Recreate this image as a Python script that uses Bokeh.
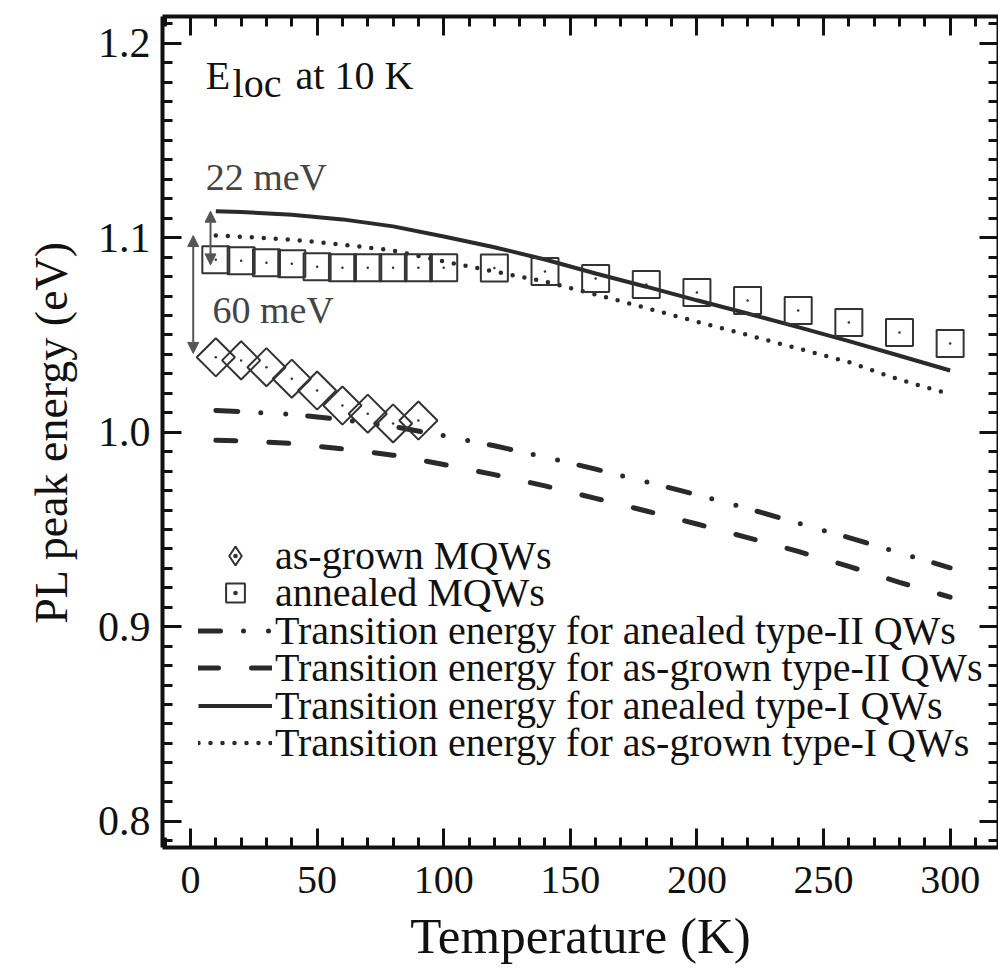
import numpy as np
from bokeh.plotting import figure
from bokeh.models import (SingleIntervalTicker, LinearAxis, Legend, LegendItem, Label,
                          Arrow, NormalHead, NumeralTickFormatter, Range1d,
                          CustomJSTickFormatter)
from bokeh.embed import file_html
from bokeh.resources import INLINE

# ---------------- data ----------------
temp_asgrown = [10, 20, 30, 40, 50, 60, 70, 80, 90]
pl_asgrown = [1.0385, 1.0369, 1.0334, 1.0275, 1.0214, 1.0137, 1.0095, 1.0045, 1.0060]

temp_annealed = [10, 20, 30, 40, 50, 60, 70, 80, 90, 100,
                 120, 140, 160, 180, 200, 220, 240, 260, 280, 300]
pl_annealed = [1.0887, 1.0882, 1.0871, 1.0866, 1.0850, 1.0846, 1.0845, 1.0845, 1.0845, 1.0845,
               1.0844, 1.0826, 1.0790, 1.0759, 1.0718, 1.0677, 1.0626, 1.0564, 1.0513, 1.0456]

temp_calc = [10, 20, 40, 60, 80, 100, 120, 140, 160, 180, 200, 220, 240, 260, 280, 300]
e_annealed_type2 = [1.0112, 1.0106, 1.0092, 1.0065, 1.0030, 0.9982, 0.9930, 0.9872, 0.9810,
                    0.9745, 0.9678, 0.9608, 0.9532, 0.9458, 0.9380, 0.9303]
e_asgrown_type2 = [0.9958, 0.9955, 0.9942, 0.9914, 0.9882, 0.9834, 0.9782, 0.9724, 0.9660,
                   0.9595, 0.9528, 0.9458, 0.9387, 0.9310, 0.9228, 0.9152]
e_annealed_type1 = [1.1136, 1.1132, 1.1118, 1.1094, 1.1058, 1.1006, 1.0951, 1.0888, 1.0816,
                    1.0748, 1.0678, 1.0610, 1.0540, 1.0468, 1.0393, 1.0317]
e_asgrown_type1 = [1.1011, 1.1005, 1.0990, 1.0964, 1.0934, 1.0878, 1.0826, 1.0774, 1.0708,
                   1.0638, 1.0568, 1.0500, 1.0430, 1.0360, 1.0270, 1.0195]

legend_labels = ["as-grown MQWs",
                 "annealed MQWs",
                 "Transition energy for anealed type-II QWs",
                 "Transition energy for as-grown type-II QWs",
                 "Transition energy for anealed type-I QWs",
                 "Transition energy for as-grown type-I QWs"]

x_major_ticks = 50
y_major_ticks = 0.1

serif = "Liberation Serif"
ink = "#2a2a2a"

# ---------------- figure ----------------
p = figure(width=998, height=972,
           x_range=Range1d(-11.06, 319.1), y_range=Range1d(0.7865, 1.2137),
           x_axis_location=None, y_axis_location=None,
           output_backend="svg", toolbar_location=None,
           min_border_left=162, min_border_right=0, min_border_top=16, min_border_bottom=125,
           background_fill_color="white", border_fill_color="white",
           outline_line_color=None)
p.grid.visible = False

xt = SingleIntervalTicker(interval=x_major_ticks, num_minor_ticks=5)
yt = SingleIntervalTicker(interval=y_major_ticks, num_minor_ticks=10)

blank = CustomJSTickFormatter(code="return '';")
bottom_ax = LinearAxis(ticker=xt, axis_label="Temperature (K)")
left_ax = LinearAxis(ticker=yt, formatter=NumeralTickFormatter(format="0.0"),
                     axis_label="PL peak energy (eV)")
top_ax = LinearAxis(ticker=xt, formatter=blank, major_label_text_font_size="1px",
                    major_label_standoff=0)
right_ax = LinearAxis(ticker=yt, formatter=blank, major_label_text_font_size="1px",
                      major_label_standoff=0)
p.add_layout(bottom_ax, "below")
p.add_layout(left_ax, "left")
p.add_layout(top_ax, "above")
p.add_layout(right_ax, "right")

for ax in [bottom_ax, left_ax, top_ax, right_ax]:
    ax.axis_line_width = 4
    ax.axis_line_color = "#111111"
    ax.major_tick_in = 19
    ax.major_tick_out = 0
    ax.minor_tick_in = 10
    ax.minor_tick_out = 0
    ax.major_tick_line_width = 3
    ax.minor_tick_line_width = 3
    ax.major_tick_line_color = "#111111"
    ax.minor_tick_line_color = "#111111"

for ax in [bottom_ax, left_ax]:
    ax.major_label_text_font = serif
    ax.major_label_text_color = "#111111"
    ax.axis_label_text_font = serif
    ax.axis_label_text_font_style = "normal"
    ax.axis_label_text_color = "#111111"

bottom_ax.major_label_text_font_size = "40px"
bottom_ax.axis_label_text_font_size = "51px"
bottom_ax.major_label_standoff = 19
bottom_ax.axis_label_standoff = 12

left_ax.major_label_text_font_size = "42px"
left_ax.axis_label_text_font_size = "46px"
left_ax.major_label_standoff = 12
left_ax.axis_label_standoff = 18

# ---------------- curves ----------------
r_dd = p.line(temp_calc, e_annealed_type2, line_color=ink, line_width=5,
              line_dash="22 23 0 25 0 22", line_cap="round")
r_da = p.line(temp_calc, e_asgrown_type2, line_color=ink, line_width=5,
              line_dash="20 33", line_cap="round")
r_so = p.line(temp_calc, e_annealed_type1, line_color=ink, line_width=4)
r_do = p.line(temp_calc, e_asgrown_type1, line_color=ink, line_width=4.5,
              line_dash="0 12", line_cap="round")

# ---------------- markers ----------------
p.scatter(temp_asgrown, pl_asgrown, marker="square", size=27, angle=np.pi / 4,
          fill_color=None, line_color="#333333", line_width=2)
p.scatter(temp_asgrown, pl_asgrown, marker="circle", size=2.5,
          fill_color="#333333", line_color=None)
p.scatter(temp_annealed, pl_annealed, marker="square", size=27,
          fill_color=None, line_color="#333333", line_width=2)
p.scatter(temp_annealed, pl_annealed, marker="circle", size=2.5,
          fill_color="#333333", line_color=None)

# legend-only marker glyphs (NaN position, never drawn in the plot area)
r_dia_leg = p.scatter(x=[np.nan], y=[np.nan], marker="diamond_dot", size=18,
                      fill_color=None, line_color="#333333", line_width=2)
r_sq_leg = p.scatter(x=[np.nan], y=[np.nan], marker="square_dot", size=15,
                     fill_color=None, line_color="#333333", line_width=2)

# ---------------- legend (one row per Legend to get tight row spacing) ----------------
legend_renderers = [r_dia_leg, r_sq_leg, r_dd, r_da, r_so, r_do]
row_offsets = [268.5, 231, 193.5, 156, 118.5, 81]
for lab, rend, off in zip(legend_labels, legend_renderers, row_offsets):
    lg = Legend(items=[LegendItem(label=lab, renderers=[rend])],
                location=(36, off), orientation="vertical",
                glyph_width=74, glyph_height=47, label_height=47, label_standoff=3,
                spacing=0, padding=0, margin=0,
                background_fill_alpha=0, border_line_alpha=0,
                label_text_font=serif, label_text_font_size="40px",
                label_text_color="#111111")
    p.add_layout(lg)

# ---------------- annotations ----------------
ann_color = "#555555"
p.add_layout(Arrow(x_start=7.9, y_start=1.1136, x_end=7.9, y_end=1.0860,
                   line_color=ann_color, line_width=2,
                   start=NormalHead(size=11, fill_color=ann_color, line_color=ann_color),
                   end=NormalHead(size=11, fill_color=ann_color, line_color=ann_color)))
p.add_layout(Arrow(x_start=1.07, y_start=1.1011, x_end=1.07, y_end=1.0405,
                   line_color=ann_color, line_width=2,
                   start=NormalHead(size=11, fill_color=ann_color, line_color=ann_color),
                   end=NormalHead(size=11, fill_color=ann_color, line_color=ann_color)))

p.add_layout(Label(x=6, y=1.131, text="22 meV", text_font=serif, text_font_size="38px",
                   text_color="#444444", text_baseline="middle", text_align="left"))
p.add_layout(Label(x=8.7, y=1.0626, text="60 meV", text_font=serif, text_font_size="38px",
                   text_color="#444444", text_baseline="middle", text_align="left"))

p.add_layout(Label(x=6, y=1.1833, text="E", text_font=serif, text_font_size="40px",
                   text_color="#111111", text_baseline="alphabetic", text_align="left"))
p.add_layout(Label(x=16.6, y=1.1793, text="loc", text_font=serif, text_font_size="40px",
                   text_color="#111111", text_baseline="alphabetic", text_align="left"))
p.add_layout(Label(x=41.5, y=1.1833, text="at 10 K", text_font=serif, text_font_size="40px",
                   text_color="#111111", text_baseline="alphabetic", text_align="left"))

open("out.html", "w").write(file_html(p, INLINE))
